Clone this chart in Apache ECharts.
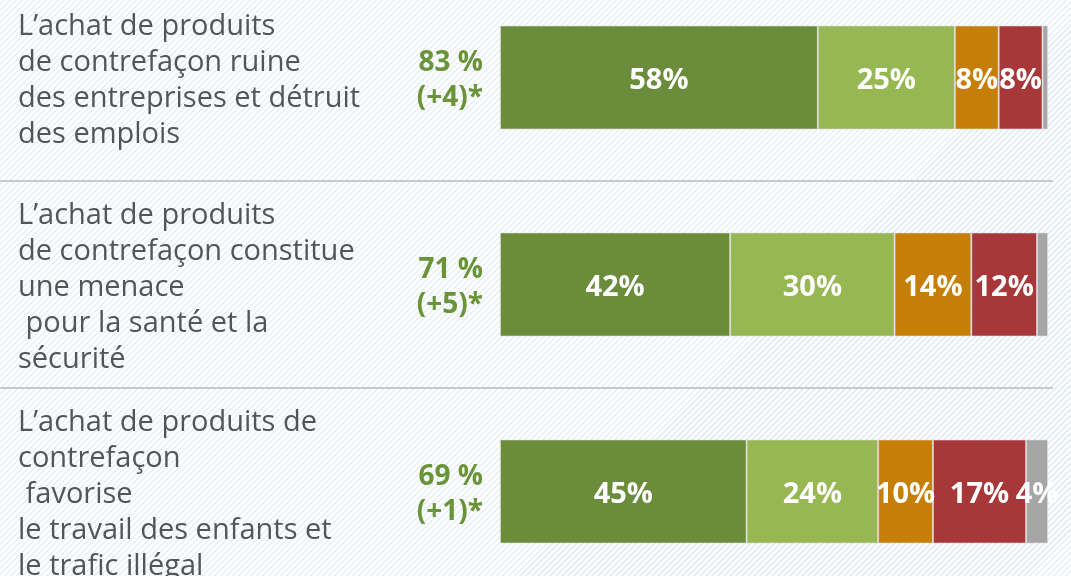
<!DOCTYPE html>
<html>
<head>
<meta charset="utf-8">
<script src="https://cdn.jsdelivr.net/npm/echarts@6/dist/echarts.min.js"></script>
<style>
  html, body { margin: 0; padding: 0; overflow: hidden; }
  body {
    width: 1071px; height: 576px; position: relative;
    background: #fff repeating-linear-gradient(135deg, #fff 0px, #fff 2.6px, #e6eef8 2.6px, #e6eef8 4.24px);
  }
  /* chart is taller than the window: the 3rd row is cut at the bottom like in the source */
  #chart { position: absolute; left: 0; top: -26px; width: 1071px; height: 621px; }
</style>
</head>
<body>
<div id="chart"></div>
<script>
  // questions (y categories), top to bottom
  const questions = [
    'L\u2019achat de produits\nde contrefaçon ruine\ndes entreprises et détruit\ndes emplois',
    'L\u2019achat de produits\nde contrefaçon constitue\nune menace\n pour la santé et la\nsécurité',
    'L\u2019achat de produits de\ncontrefaçon\n favorise\nle travail des enfants et\nle trafic illégal'
  ];
  const totals = ['83 %', '71 %', '69 %'];
  const changes = ['(+4)*', '(+5)*', '(+1)*'];

  // stacked shares, in %
  const seriesNames = ['Tout à fait d\u2019accord', 'Plutôt d\u2019accord', 'Plutôt pas d\u2019accord', 'Pas du tout d\u2019accord', 'Ne se prononce pas'];
  const toutAFait = [58, 42, 45];
  const plutot = [25, 30, 24];
  const plutotPas = [8, 14, 10];
  const pasDuTout = [8, 12, 17];
  const nsp = [1, 2, 4];
  const colors = ['#6b8c3b', '#97b752', '#c67f06', '#a8373a', '#a6a6a6'];

  const values = [toutAFait, plutot, plutotPas, pasDuTout, nsp];

  const chart = echarts.init(document.getElementById('chart'));
  const font = '"Open Sans", "DejaVu Sans", sans-serif';

  // small empty first line pushes the text block a bit down
  const spacer = h => ({ fontSize: 1, lineHeight: h });

  const option = {
    backgroundColor: 'transparent',
    animation: false,
    grid: [
      { left: 500, right: 23, top: 0, bottom: 0 },
      { left: 0, right: 18, top: 0, bottom: 0 }
    ],
    xAxis: [
      { type: 'value', min: 0, max: 100, show: false, gridIndex: 0 },
      { type: 'value', min: 0, max: 100, show: false, gridIndex: 1 }
    ],
    yAxis: [
      {
        type: 'category', gridIndex: 0, inverse: true, data: questions, position: 'left',
        axisLine: { show: false }, axisTick: { show: false }, splitLine: { show: false },
        axisLabel: {
          interval: 0, margin: 482, align: 'left',
          formatter: v => '{s| }\n' + v.split('\n').map(l => '{q|' + l + '}').join('\n'),
          rich: {
            s: spacer(6),
            q: { color: '#555', fontFamily: font, fontSize: 29, lineHeight: 36 }
          }
        }
      },
      {
        type: 'category', gridIndex: 0, inverse: true, data: totals, position: 'left',
        axisLine: { show: false }, axisTick: { show: false }, splitLine: { show: false },
        axisLabel: {
          interval: 0, margin: 17, align: 'right',
          formatter: (v, i) => '{s| }\n{t|' + v + '}\n{t|' + changes[i] + '}',
          rich: {
            s: spacer(7),
            t: { color: '#6a9438', fontFamily: font, fontSize: 28, fontWeight: 'bold', lineHeight: 35 }
          }
        }
      },
      {
        type: 'category', gridIndex: 1, inverse: true, data: questions,
        axisLine: { show: false }, axisTick: { show: false }, axisLabel: { show: false },
        splitLine: { show: true, lineStyle: { color: '#c9c9c9', width: 2 } }
      }
    ],
    series: values.map((d, k) => ({
      name: seriesNames[k],
      type: 'bar',
      stack: 'total',
      xAxisIndex: 0,
      yAxisIndex: 0,
      barWidth: 104,
      data: d,
      itemStyle: { color: colors[k], borderColor: 'rgba(220,220,220,0.6)', borderWidth: 1 },
      label: {
        show: true, position: 'inside', color: '#fff',
        fontFamily: font, fontSize: 29, fontWeight: 'bold', offset: [0, 3],
        formatter: p => (p.value >= 4 ? p.value + '%' : '')
      }
    }))
  };

  chart.setOption(option);
</script>
</body>
</html>
